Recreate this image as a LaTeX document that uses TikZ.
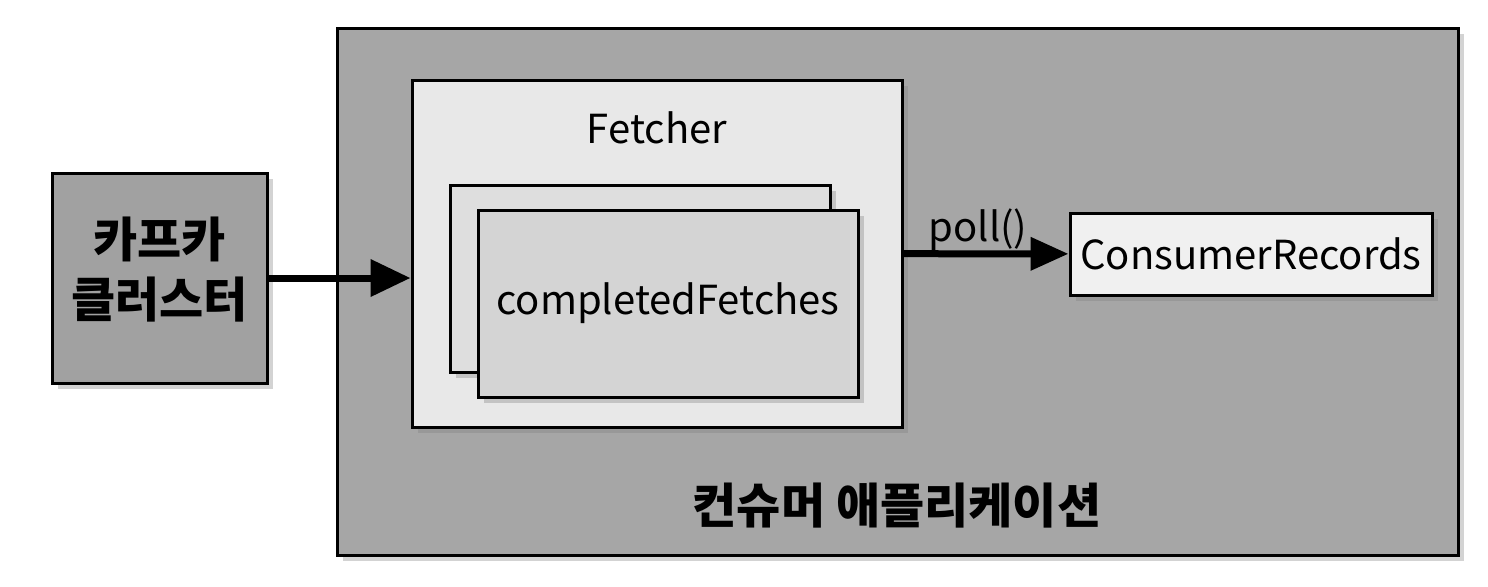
\documentclass[tikz,border=0pt]{standalone}
\usepackage{fontspec}
\setmainfont{Noto Sans CJK KR}
\usetikzlibrary{arrows.meta,shadows}
\begin{document}
\begin{tikzpicture}[x=0.5pt,y=-0.5pt,
  box/.style={rectangle, draw, line width=1.5pt, inner sep=0pt,
    drop shadow={shadow xshift=3pt, shadow yshift=-3pt, opacity=0.35}},
  lbl/.style={font=\fontsize{20}{24}\selectfont},
  blbl/.style={font=\fontsize{24}{30}\selectfont\bfseries, align=center},
  arr/.style={line width=3.5pt, -{Triangle[length=20pt,width=18pt]}}]
  \useasboundingbox (0,0) rectangle (1488,586);

  \node[box, fill=black!35, minimum width=560.5pt, minimum height=263.5pt] (app) at (897.5,291.5) {};
  \node[box, fill=black!37, minimum width=107.5pt, minimum height=105pt] (kafka) at (159.5,278) {};
  \node[box, fill=black!9, minimum width=245pt, minimum height=173.5pt] (fetcher) at (657,253.5) {};
  \node[box, fill=black!13, minimum width=190pt, minimum height=93.5pt] (cf1) at (640,278.5) {};
  \node[box, fill=black!17, minimum width=190pt, minimum height=93.5pt] (cf2) at (668,303.5) {};
  \node[box, fill=black!6, minimum width=181pt, minimum height=41pt] (cr) at (1251,254) {};

  \node[blbl] (kafkat) at (159.5,270) {카프카\\클러스터};
  \node[lbl] (fetchert) at (657,128) {Fetcher};
  \node[lbl] (cft) at (cf2) {completedFetches};
  \node[lbl] (crt) at (cr) {ConsumerRecords};
  \node[blbl] (appt) at (897,506) {컨슈머 애플리케이션};

  \draw[arr] (kafka) -- (kafka -| fetcher.west);
  \draw[arr, -{Triangle[length=19pt,width=16pt]}] (fetcher) -- (cr);
  \node[lbl] (poll) at (978,230) {poll()};

\end{tikzpicture}
\end{document}
